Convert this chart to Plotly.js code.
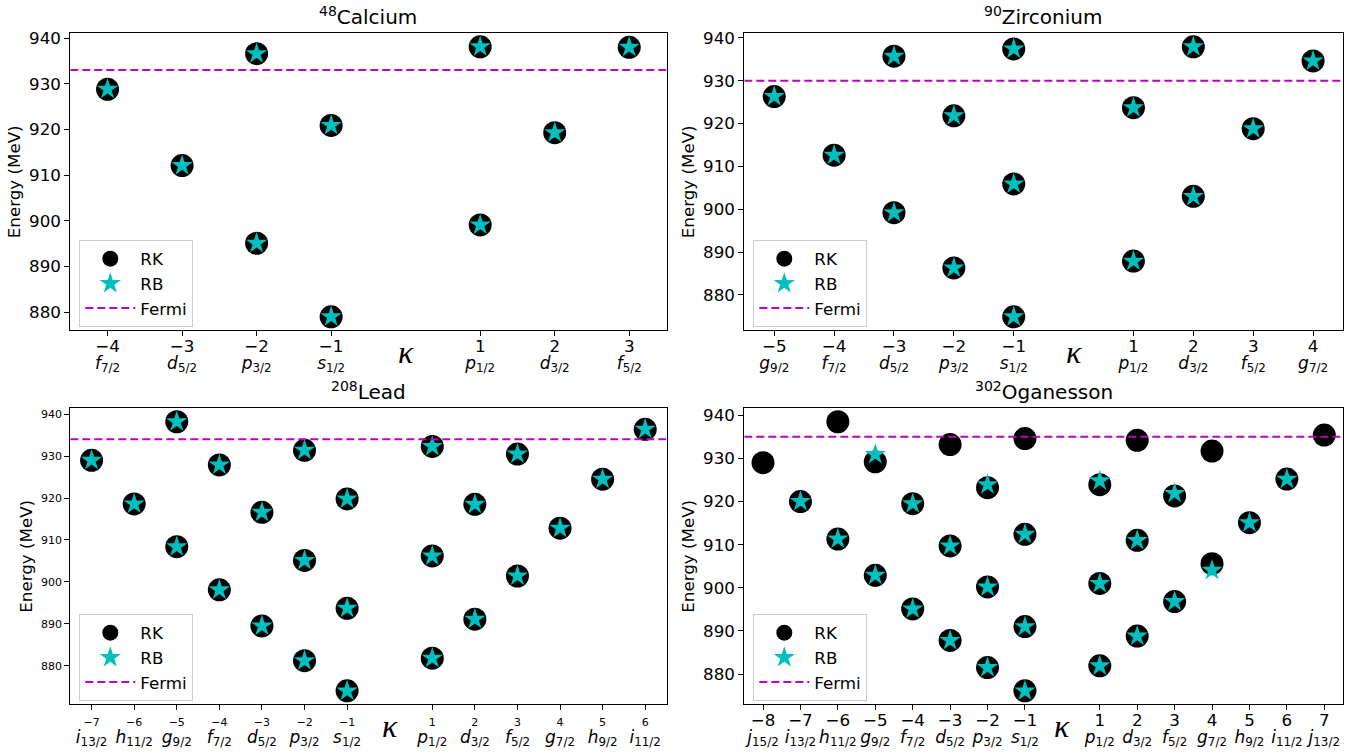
<!DOCTYPE html>
<html>
<head>
<meta charset="utf-8">
<script src="https://cdn.plot.ly/plotly-3.0.1.min.js"></script>
<style>
  html, body { margin: 0; padding: 0; background: #ffffff; }
  #chart { width: 1364px; height: 754px; }
</style>
</head>
<body>
<div id="chart"></div>
<script>
// Spectroscopic labels for each kappa quantum number
const kappaTicks   = [-8, -7, -6, -5, -4, -3, -2, -1, 1, 2, 3, 4, 5, 6, 7];
const orbitalLetter = ['j', 'i', 'h', 'g', 'f', 'd', 'p', 's', 'p', 'd', 'f', 'g', 'h', 'i', 'j'];
const orbitalJ      = ['15/2', '13/2', '11/2', '9/2', '7/2', '5/2', '3/2', '1/2',
                       '1/2', '3/2', '5/2', '7/2', '9/2', '11/2', '13/2'];
const energyTicks = [880, 890, 900, 910, 920, 930, 940];

// 48Ca
const caKappaRK = [-4, -3, -2, -2, -1, -1, 1, 1, 2, 3];
const caRK      = [928.8, 912.1, 936.6, 895.1, 920.9, 879.0, 938.1, 899.1, 919.3, 938.0];
const caKappaRB = [-4, -3, -2, -2, -1, -1, 1, 1, 2, 3];
const caRB      = [928.8, 912.1, 936.6, 895.1, 920.9, 879.0, 938.1, 899.1, 919.3, 938.0];
const caFermi   = 933.0;

// 90Zr
const zrKappaRK = [-5, -4, -3, -3, -2, -2, -1, -1, -1, 1, 1, 2, 2, 3, 4];
const zrRK      = [926.3, 912.6, 935.7, 899.2, 921.8, 886.3, 937.4, 905.9, 874.9,
                   923.7, 887.9, 937.9, 903.0, 918.8, 934.6];
const zrKappaRB = [-5, -4, -3, -3, -2, -2, -1, -1, -1, 1, 1, 2, 2, 3, 4];
const zrRB      = [926.3, 912.6, 935.7, 899.2, 921.8, 886.3, 937.4, 905.9, 874.9,
                   923.7, 887.9, 937.9, 903.0, 918.8, 934.6];
const zrFermi   = 930.0;

// 208Pb
const pbKappaRK = [-7, -6, -5, -5, -4, -4, -3, -3, -2, -2, -2, -1, -1, -1,
                   1, 1, 1, 2, 2, 3, 3, 4, 5, 6];
const pbRK      = [929.0, 918.6, 938.2, 908.4, 927.9, 898.1, 916.6, 889.5, 931.4, 905.1, 881.2,
                   919.8, 893.7, 874.0, 932.3, 906.2, 881.8, 918.5, 891.1, 930.5, 901.4,
                   912.8, 924.5, 936.4];
const pbKappaRB = [-7, -6, -5, -5, -4, -4, -3, -3, -2, -2, -2, -1, -1, -1,
                   1, 1, 1, 2, 2, 3, 3, 4, 5, 6];
const pbRB      = [929.0, 918.6, 938.2, 908.4, 927.9, 898.1, 916.6, 889.5, 931.4, 905.1, 881.2,
                   919.8, 893.7, 874.0, 932.3, 906.2, 881.8, 918.5, 891.1, 930.5, 901.4,
                   912.8, 924.5, 936.4];
const pbFermi   = 934.0;

// 302Og
const ogKappaRK = [-8, -7, -6, -6, -5, -5, -4, -4, -3, -3, -3, -2, -2, -2, -1, -1, -1, -1,
                   1, 1, 1, 2, 2, 2, 3, 3, 4, 4, 5, 6, 7];
const ogRK      = [929.0, 920.0, 938.5, 911.3, 929.2, 902.9, 919.5, 895.1, 933.2, 909.7, 887.8,
                   923.2, 900.2, 881.5, 934.6, 912.4, 891.0, 876.1, 923.9, 901.0, 881.9,
                   934.2, 911.0, 888.8, 921.3, 896.8, 931.7, 905.6, 915.1, 925.2, 935.4];
const ogKappaRB = [-7, -6, -5, -5, -4, -4, -3, -3, -2, -2, -2, -1, -1, -1,
                   1, 1, 1, 2, 2, 3, 3, 4, 5, 6];
const ogRB      = [920.0, 911.3, 930.9, 902.9, 919.5, 895.1, 909.7, 887.8, 923.9, 900.2, 881.5,
                   912.4, 891.0, 876.1, 924.8, 901.0, 881.9, 911.0, 888.8, 921.9, 896.8,
                   904.1, 915.1, 925.2];
const ogFermi   = 935.0;

const W = 1364, H = 754;
const FONT = 'DejaVu Sans, sans-serif';
const BLACK = '#000000', CYAN = '#00BFBF', MAGENTA = '#BF00BF';
const px = v => v / W;
const py = v => 1 - v / H;

const panels = [
  { nucleus: 'Calcium',   mass: 48,  kRK: caKappaRK, eRK: caRK, kRB: caKappaRB, eRB: caRB, fermi: caFermi,
    kmin: -4, kmax: 3, box: [70.3, 666.5, 33.3, 330.3], small: false },
  { nucleus: 'Zirconium', mass: 90,  kRK: zrKappaRK, eRK: zrRK, kRB: zrKappaRB, eRB: zrRB, fermi: zrFermi,
    kmin: -5, kmax: 4, box: [744.3, 1343, 33.3, 330.3], small: false },
  { nucleus: 'Lead',      mass: 208, kRK: pbKappaRK, eRK: pbRK, kRB: pbKappaRB, eRB: pbRB, fermi: pbFermi,
    kmin: -7, kmax: 6, box: [70.3, 666.5, 408.3, 704.3], small: true },
  { nucleus: 'Oganesson', mass: 302, kRK: ogKappaRK, eRK: ogRK, kRB: ogKappaRB, eRB: ogRB, fermi: ogFermi,
    kmin: -8, kmax: 7, box: [744.3, 1343, 408.3, 704.3], small: false }
];

const traces = [];
const layout = {
  width: W, height: H,
  margin: { l: 0, r: 0, t: 0, b: 0 },
  paper_bgcolor: '#ffffff',
  plot_bgcolor: '#ffffff',
  font: { family: FONT, color: BLACK, size: 16.7 },
  showlegend: true,
  annotations: []
};

panels.forEach((p, i) => {
  const s = i === 0 ? '' : String(i + 1);
  const legendId = 'legend' + s;
  const xr = [p.kmin - 0.5, p.kmax + 0.5];

  const all = p.eRK.concat(p.eRB);
  const lo = Math.min(...all), hi = Math.max(...all);
  const pad = 0.05 * (hi - lo);
  const yr = [lo - pad, hi + pad];

  // tick labels: kappa value on top, orbital name below
  const numSize = p.small ? 11 : 16.7;
  const tv = [], tt = [];
  kappaTicks.forEach((k, j) => {
    if (k < p.kmin || k > p.kmax) return;
    tv.push(k);
    const num = (k < 0 ? '\u2212' : '') + Math.abs(k);
    tt.push('<span style="font-size:' + numSize + 'px">' + num + '</span><br>' +
            '<span style="font-size:17px"><i>' + orbitalLetter[j] + '</i><sub>' +
            orbitalJ[j] + '</sub></span>');
  });

  traces.push({
    type: 'scatter', mode: 'markers', name: 'RK',
    x: p.kRK, y: p.eRK, xaxis: 'x' + s, yaxis: 'y' + s, legend: legendId,
    marker: { symbol: 'circle', size: 23, color: BLACK, line: { width: 0 } },
    cliponaxis: false, hoverinfo: 'x+y'
  });
  traces.push({
    type: 'scatter', mode: 'markers', name: 'RB',
    x: p.kRB, y: p.eRB, xaxis: 'x' + s, yaxis: 'y' + s, legend: legendId,
    marker: { symbol: 'star', size: 16, color: CYAN, line: { width: 0 } },
    cliponaxis: false, hoverinfo: 'x+y'
  });
  traces.push({
    type: 'scatter', mode: 'lines', name: 'Fermi',
    x: xr, y: [p.fermi, p.fermi], xaxis: 'x' + s, yaxis: 'y' + s, legend: legendId,
    line: { color: MAGENTA, width: 2, dash: '8px,4px' },
    hoverinfo: 'y'
  });

  const [x0, x1, y0, y1] = p.box;

  layout['xaxis' + s] = {
    domain: [px(x0), px(x1)], anchor: 'y' + s, range: xr,
    tickmode: 'array', tickvals: tv, ticktext: tt,
    ticks: 'outside', ticklen: 5, tickwidth: 1, tickcolor: BLACK,
    showline: true, mirror: true, linecolor: BLACK, linewidth: 1,
    showgrid: false, zeroline: false,
    tickfont: { family: FONT, size: 13, color: BLACK }
  };
  layout['yaxis' + s] = {
    domain: [py(y1), py(y0)], anchor: 'x' + s, range: yr,
    tickmode: 'array', tickvals: energyTicks,
    ticks: 'outside', ticklen: 5, tickwidth: 1, tickcolor: BLACK,
    showline: true, mirror: true, linecolor: BLACK, linewidth: 1,
    showgrid: false, zeroline: false,
    tickfont: { family: FONT, size: p.small ? 11 : 16.7, color: BLACK },
    title: { text: 'Energy (MeV)', font: { family: FONT, size: 16.7, color: BLACK }, standoff: 4 }
  };

  layout[legendId] = {
    x: px(x0 + 9), y: py(y1 - 90), xanchor: 'left', yanchor: 'top',
    xref: 'paper', yref: 'paper',
    bgcolor: 'rgba(255,255,255,0.8)', bordercolor: '#cccccc', borderwidth: 1,
    font: { family: FONT, size: 16.7, color: BLACK },
    itemwidth: 50, tracegroupgap: 0
  };

  // panel title
  layout.annotations.push({
    xref: 'paper', yref: 'paper', x: px((x0 + x1) / 2), y: py(y0),
    xanchor: 'center', yanchor: 'bottom', yshift: 2, showarrow: false,
    text: '<sup>' + p.mass + '</sup>' + p.nucleus,
    font: { family: FONT, size: 20, color: BLACK }
  });
  // kappa marker on the x axis, at kappa = 0
  layout.annotations.push({
    xref: 'x' + s, yref: 'paper', x: 0, y: py(y1 + 22),
    xanchor: 'center', yanchor: 'middle', showarrow: false,
    text: '<i>\u03ba</i>',
    font: { family: 'Liberation Serif, serif', size: 32, color: BLACK }
  });
});

Plotly.newPlot('chart', traces, layout, { displayModeBar: false, staticPlot: true });
</script>
</body>
</html>
